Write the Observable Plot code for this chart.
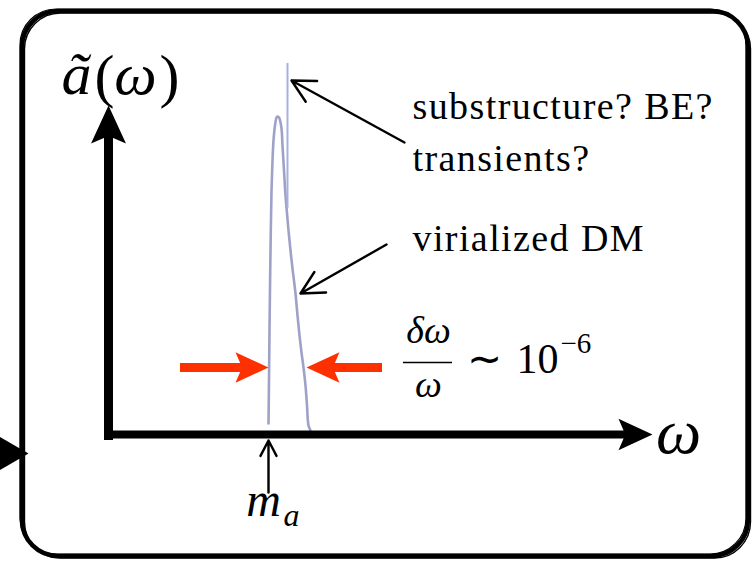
<!DOCTYPE html>
<html>
<head>
<meta charset="utf-8">
<script src="https://cdn.jsdelivr.net/npm/d3@7"></script>
<script src="https://cdn.jsdelivr.net/npm/@observablehq/plot@0.6"></script>
<style>
  html, body { margin: 0; padding: 0; background: #fff; }
  svg { display: block; }
  .notes text { letter-spacing: 1.4px; }
</style>
</head>
<body>
<div id="chart"></div>
<script>
// ---- Data (schematic units: omega to the right, amplitude upward; origin = axes corner) ----
const peakOmega = [160, 160.5, 161, 161.6, 162.3, 163, 164, 165, 166.5, 168, 169, 170,
                   171, 173, 174, 175.5, 177, 178, 180, 182, 184, 187, 189, 191, 193, 195, 197, 198.5, 200, 202];
const peakAmp   = [11, 54, 104, 154, 204, 244, 274, 294, 309, 317, 318, 317.5,
                   316, 306, 289, 264, 239, 227, 204, 184, 166, 141, 119, 99, 82, 67, 49, 29, 9, 4];

const spikeOmega = [179];
const spikeLow = [226];
const spikeHigh = [371];

const axisYTip = [329];
const axisXTip = [544];
const axisStart = [-6];

const noteArrows = [
  {x1: 296, y1: 292, x2: 183, y2: 354},   // substructure / transients
  {x1: 278, y1: 190, x2: 192, y2: 141},   // virialized DM
  {x1: 160, y1: -58, x2: 160, y2: -6}     // m_a
];

const widthArrows = [
  {from: 72, to: 160, level: 67},
  {from: 274, to: 198, level: 67}
];

const noteLines = ["substructure? BE?", "transients?", "virialized DM"];
const noteAmp = [316, 264, 184];
const noteOmega = 304;

const frameBox = {x1: -86, x2: 640, y1: 423, y2: -122};

// ---- Build ----
const peak = peakOmega.map((w, i) => ({w, a: peakAmp[i]}));

const stealth = {
  draw(ctx, size) {
    const r = Math.sqrt(size / Math.PI);
    ctx.moveTo(0, -r);
    ctx.lineTo(r * 0.92, r);
    ctx.lineTo(0, r * 0.6);
    ctx.lineTo(-r * 0.92, r);
    ctx.closePath();
  }
};
const tri = {
  draw(ctx, size) {
    const r = Math.sqrt(size / Math.PI);
    ctx.moveTo(0, -r);
    ctx.lineTo(r * 1.15, r);
    ctx.lineTo(-r * 1.15, r);
    ctx.closePath();
  }
};

const serif = "Liberation Serif";
const yHeadR = 19, xHeadR = 17, redHeadR = 16.5;

const heads = [
  {w: 0, a: axisYTip[0] - yHeadR, rot: 0, r: yHeadR, fill: "black"},
  {w: axisXTip[0] - xHeadR, a: 0, rot: 90, r: xHeadR, fill: "black"},
  ...widthArrows.map(d => ({
    w: d.to + (d.to > d.from ? -redHeadR : redHeadR), a: d.level,
    rot: d.to > d.from ? 90 : -90, r: redHeadR, fill: "#ff3000"
  }))
];

const shafts = widthArrows.map(d => ({
  x1: d.from, x2: d.to + (d.to > d.from ? -redHeadR * 1.3 : redHeadR * 1.3), y: d.level
}));

const frames = [
  {...frameBox, sw: 4.5, dx: 0, dy: 0},
  {...frameBox, sw: 1.4, dx: 2.5, dy: -2},
  {...frameBox, sw: 1.2, dx: -2, dy: 2}
].map(f => ({x1: f.x1 + f.dx, x2: f.x2 + f.dx, y1: f.y1 + f.dy, y2: f.y2 + f.dy, sw: f.sw}));

const txt = (str, w, a, o = {}) => Plot.text([str], {x: () => w, y: () => a, text: d => d,
  textAnchor: "middle", lineAnchor: "bottom", fontFamily: serif, fill: "black", ...o});

const plot = Plot.plot({
  width: 756,
  height: 566,
  margin: 0,
  x: {domain: [-108, 648], axis: null},
  y: {domain: [-132, 434], axis: null},
  r: {type: "identity"},
  style: {background: "white", overflow: "hidden"},
  marks: [
    // sketchy rounded border
    ...frames.map(f => Plot.rect([f], {x1: "x1", x2: "x2", y1: "y1", y2: "y2",
      fill: "none", stroke: "black", strokeWidth: f.sw, rx: 36})),
    // incoming triangle at left edge
    Plot.dot([{w: -100, a: -19}], {x: "w", y: "a", symbol: tri, r: 20, rotate: 90, fill: "black", stroke: "none"}),
    // spectrum
    Plot.line(peak, {x: "w", y: "a", stroke: "#9ea1c8", strokeWidth: 2.6, curve: "catmull-rom"}),
    Plot.ruleX(spikeOmega, {y1: spikeLow[0], y2: spikeHigh[0], stroke: "#a9aee0", strokeWidth: 2}),
    // axes
    Plot.ruleX([0], {y1: axisStart[0], y2: axisYTip[0] - yHeadR * 1.5, stroke: "black", strokeWidth: 9}),
    Plot.ruleY([0], {x1: -4, x2: axisXTip[0] - xHeadR * 1.5, stroke: "black", strokeWidth: 8}),
    // red width arrows
    Plot.ruleY(shafts, {x1: "x1", x2: "x2", y: "y", stroke: "#ff3000", strokeWidth: 9}),
    Plot.dot(heads, {x: "w", y: "a", r: "r", rotate: "rot", fill: "fill", stroke: "none", symbol: stealth}),
    // annotation arrows
    Plot.arrow(noteArrows, {x1: "x1", y1: "y1", x2: "x2", y2: "y2", stroke: "black",
      strokeWidth: 2.4, headLength: 16, headAngle: 55}),
    // note texts
    Plot.text(noteLines, {x: () => noteOmega, y: (d, i) => noteAmp[i], text: d => d,
      textAnchor: "start", lineAnchor: "bottom", fontFamily: serif, fontSize: 38,
      className: "notes", fill: "black"}),
    // y label ã(ω)
    txt("ã", -32, 341, {fontStyle: "italic", fontSize: 60}),
    txt("(", -4, 339, {fontSize: 60}),
    txt("ω", 27, 341, {fontStyle: "italic", fontSize: 60}),
    txt(")", 61, 339, {fontSize: 60}),
    // x label ω
    txt("ω", 570, -18, {fontStyle: "italic", fontSize: 64}),
    // m_a
    txt("m", 155, -81, {fontStyle: "italic", fontSize: 48}),
    txt("a", 183, -91, {fontStyle: "italic", fontSize: 32}),
    // δω/ω ~ 10^-6
    txt("δω", 320, 92, {fontStyle: "italic", fontSize: 38}),
    Plot.ruleY([72], {x1: 295, x2: 344, stroke: "black", strokeWidth: 1.6}),
    txt("ω", 320, 38, {fontStyle: "italic", fontSize: 38}),
    txt("∼", 376, 62, {fontSize: 42}),
    txt("10", 408, 62, {textAnchor: "start", fontSize: 42}),
    txt("−6", 452, 82, {textAnchor: "start", fontSize: 29})
  ]
});
document.getElementById("chart").appendChild(plot);
</script>
</body>
</html>
